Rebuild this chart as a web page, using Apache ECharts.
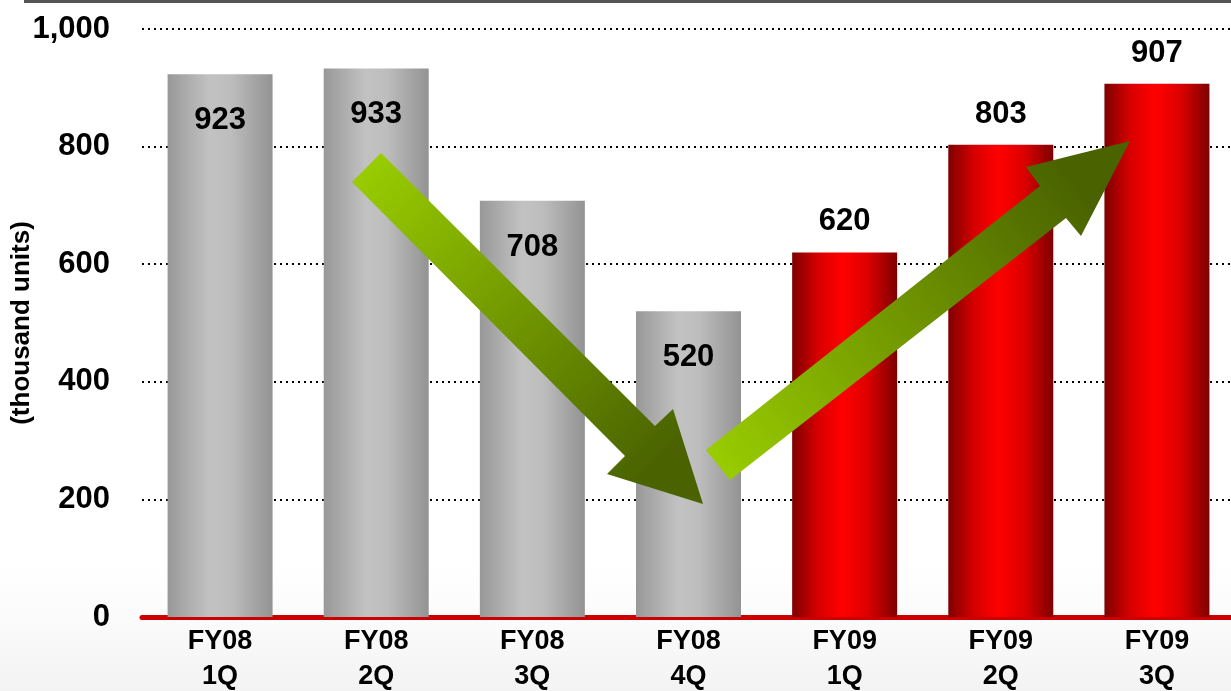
<!DOCTYPE html>
<html>
<head>
<meta charset="utf-8">
<script src="https://cdn.jsdelivr.net/npm/echarts@6/dist/echarts.min.js"></script>
<style>
  html, body { margin: 0; padding: 0; background: #fff; }
  #main { width: 1231px; height: 691px; }
</style>
</head>
<body>
<div id="main"></div>
<script>
// categories and values
var quarters = ['FY08\n1Q', 'FY08\n2Q', 'FY08\n3Q', 'FY08\n4Q', 'FY09\n1Q', 'FY09\n2Q', 'FY09\n3Q'];
var units = [923, 933, 708, 520, 620, 803, 907];
var yMin = 0, yMax = 1000, yStep = 200;

var FONT = '"Liberation Sans", Arial, sans-serif';

// gray cylinder look for FY08, red for FY09
var grayFill = {
  type: 'linear', x: 0, y: 0, x2: 1, y2: 0,
  colorStops: [
    { offset: 0, color: '#989898' },
    { offset: 0.4, color: '#c2c2c2' },
    { offset: 0.6, color: '#bdbdbd' },
    { offset: 1, color: '#939393' }
  ]
};
var redFill = {
  type: 'linear', x: 0, y: 0, x2: 1, y2: 0,
  colorStops: [
    { offset: 0, color: '#7e0000' },
    { offset: 0.25, color: '#d80000' },
    { offset: 0.48, color: '#ff0000' },
    { offset: 0.72, color: '#dd0000' },
    { offset: 1, color: '#7e0000' }
  ]
};

var barData = units.map(function (v, i) {
  var fy09 = quarters[i].indexOf('FY09') === 0;
  return {
    value: v,
    itemStyle: { color: fy09 ? redFill : grayFill },
    label: fy09 ? { position: 'top', distance: 15 } : { position: 'insideTop', distance: 31 }
  };
});

function arrowFill(x, y, x2, y2) {
  return {
    type: 'linear', x: x, y: y, x2: x2, y2: y2, global: true,
    colorStops: [
      { offset: 0, color: '#99cc00' },
      { offset: 1, color: '#4a6300' }
    ]
  };
}

var chart = echarts.init(document.getElementById('main'));
chart.setOption({
  animation: false,
  backgroundColor: '#ffffff',
  textStyle: { fontFamily: FONT },
  grid: { left: 142, right: -4, top: 29, bottom: 74, containLabel: false, outerBoundsMode: 'none' },
  xAxis: {
    type: 'category',
    data: quarters,
    axisLine: { show: true, lineStyle: { color: '#cc0000', width: 5 } },
    axisTick: { show: false },
    axisLabel: {
      margin: 7,
      color: '#000',
      fontFamily: FONT,
      fontWeight: 'bold',
      fontSize: 27,
      lineHeight: 35
    }
  },
  yAxis: {
    type: 'value',
    min: yMin, max: yMax, interval: yStep,
    name: '(thousand units)',
    nameLocation: 'middle',
    nameGap: 107,
    nameMoveOverlap: false,
    nameRotate: 90,
    nameTextStyle: { color: '#000', fontFamily: FONT, fontWeight: 'bold', fontSize: 26 },
    axisLine: { show: false },
    axisTick: { show: false },
    axisLabel: {
      margin: 32,
      color: '#000',
      fontFamily: FONT,
      fontWeight: 'bold',
      fontSize: 31,
      formatter: function (v) { return v.toLocaleString('en-US'); }
    },
    splitLine: { show: true, lineStyle: { color: '#000', width: 2, type: [2, 4] } }
  },
  series: [{
    type: 'bar',
    data: barData,
    barWidth: 105,
    label: {
      show: true,
      color: '#000',
      fontFamily: FONT,
      fontWeight: 'bold',
      fontSize: 31
    }
  }],
  graphic: [
    // dark rule along the top edge
    { type: 'rect', left: 24, top: 0, shape: { width: 1207, height: 3 }, style: { fill: '#555555' }, z: 1 },
    // faint strip behind the quarter labels
    {
      type: 'rect', left: 0, top: 560, shape: { width: 1231, height: 131 }, z: -1,
      style: {
        fill: {
          type: 'linear', x: 0, y: 0, x2: 0, y2: 1,
          colorStops: [{ offset: 0, color: '#ffffff' }, { offset: 0.45, color: '#fbfbfb' }, { offset: 1, color: '#f3f3f3' }]
        }
      }
    },
    // falling arrow
    {
      type: 'polygon', z: 100,
      shape: { points: [[352, 182], [381, 153], [655, 426], [673, 409], [703, 504], [607, 474], [625, 456]] },
      style: { fill: arrowFill(366, 168, 660, 460) }
    },
    // rising arrow
    {
      type: 'polygon', z: 100,
      shape: { points: [[706, 450], [730, 480], [1066, 218], [1081, 236], [1130, 141], [1026, 167], [1040, 186]] },
      style: { fill: arrowFill(718, 465, 1080, 190) }
    }
  ]
});
</script>
</body>
</html>
